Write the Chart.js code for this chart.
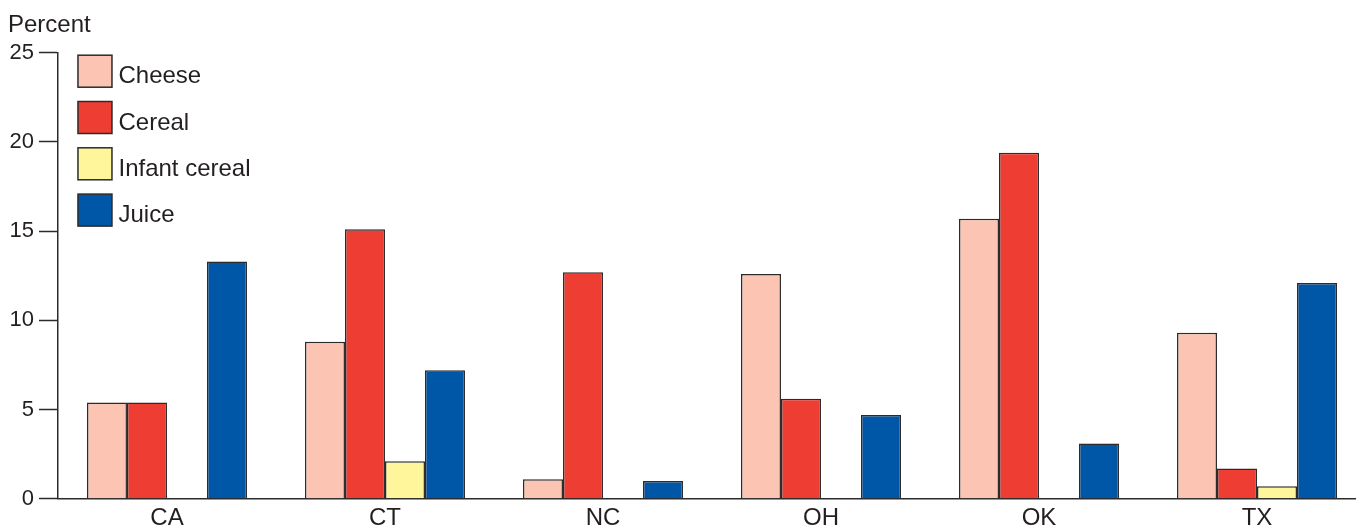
<!DOCTYPE html>
<html lang="en">
<head>
  <meta charset="UTF-8">
  <title>Percent by state</title>
  <script src="https://cdn.jsdelivr.net/npm/chart.js"></script>
  <style>
    html, body { margin: 0; padding: 0; background: #fff; overflow: hidden; }
    #wrap { width: 1356px; height: 527px; overflow: hidden; }
    #box { width: 1366px; height: 538px; }
  </style>
</head>
<body>
  <div id="wrap"><div id="box"><canvas id="barChart"></canvas></div></div>

  <script>
    const states = ['CA', 'CT', 'NC', 'OH', 'OK', 'TX'];
    const cheese = [5.4, 8.8, 1.1, 12.6, 15.7, 9.3];
    const cereal = [5.4, 15.1, 12.7, 5.6, 19.4, 1.7];
    const infantCereal = [null, 2.1, null, null, null, 0.7];
    const juice = [13.3, 7.2, 1.0, 4.7, 3.1, 12.1];
    const yTicks = [0, 5, 10, 15, 20, 25];
    const yTitle = 'Percent';

    const font = 'Liberation Sans, Arial, Helvetica, sans-serif';
    const ink = '#231f20';
    const edge = '#2b2b2b';

    function series(label, data, color) {
      return {
        label: label,
        data: data,
        backgroundColor: color,
        borderColor: edge,
        borderWidth: 1.5,
        categoryPercentage: 0.734,
        barPercentage: 1.0
      };
    }

    // "Percent" over the axis, plus the legend inside the plot (top left)
    const boxLegend = {
      id: 'boxLegend',
      afterDraw(chart) {
        const c = chart.ctx;
        const x0 = chart.chartArea.left + 20;
        const y0 = chart.chartArea.top + 2.5;
        c.save();
        c.font = '24px ' + font;
        c.textBaseline = 'alphabetic';
        c.fillStyle = ink;
        c.fillText(yTitle, 8, 31.5);
        chart.data.datasets.forEach((ds, i) => {
          const y = y0 + i * 46.3;
          c.fillStyle = ds.backgroundColor;
          c.fillRect(x0, y, 34, 32);
          c.strokeStyle = edge;
          c.lineWidth = 1.5;
          c.strokeRect(x0, y, 34, 32);
          c.fillStyle = ink;
          c.fillText(ds.label, x0 + 40.5, y + 28);
        });
        c.restore();
      }
    };

    new Chart(document.getElementById('barChart').getContext('2d'), {
      type: 'bar',
      data: {
        labels: states,
        datasets: [
          series('Cheese', cheese, '#fcc5b3'),
          series('Cereal', cereal, '#ee3e34'),
          series('Infant cereal', infantCereal, '#fff69b'),
          series('Juice', juice, '#0057a7')
        ]
      },
      options: {
        responsive: true,
        maintainAspectRatio: false,
        animation: false,
        layout: { padding: { left: 4.5, right: 0, top: 52.7, bottom: 0 } },
        plugins: {
          legend: { display: false },
          tooltip: { enabled: false },
          title: { display: false }
        },
        scales: {
          x: {
            grid: { display: false, drawTicks: false },
            border: { display: true, color: edge, width: 1.5 },
            ticks: {
              color: ink,
              padding: 10,
              font: { family: font, size: 24, lineHeight: 0.8 }
            }
          },
          y: {
            min: 0,
            max: 25,
            afterBuildTicks(axis) {
              axis.ticks = yTicks.map(v => ({ value: v }));
            },
            grid: {
              display: true,
              drawOnChartArea: false,
              drawTicks: true,
              tickLength: 19,
              tickColor: edge,
              tickWidth: 1.5
            },
            border: { display: true, color: edge, width: 1.5 },
            ticks: {
              color: ink,
              padding: 5,
              font: { family: font, size: 22 }
            }
          }
        }
      },
      plugins: [boxLegend]
    });
  </script>
</body>
</html>
